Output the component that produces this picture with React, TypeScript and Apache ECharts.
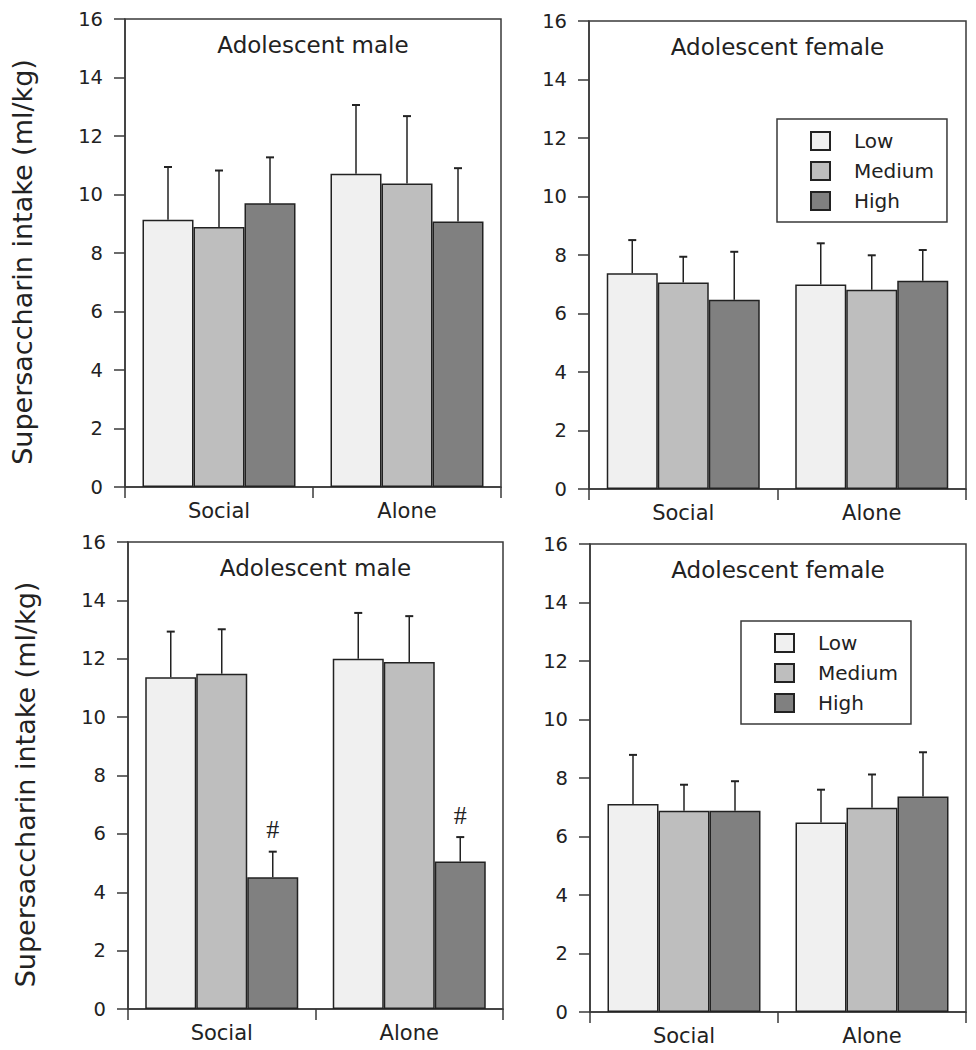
import React, { useEffect, useRef } from 'react';
import * as echarts from 'echarts';

// ---- data ----
const categories = ['Social', 'Alone'];
const levels = ['Low', 'Medium', 'High'];
const panelTitles = ['Adolescent male', 'Adolescent female', 'Adolescent male', 'Adolescent female'];
const yAxisTitle = 'Supersaccharin intake (ml/kg)';

// rows: Low, Medium, High ; columns: Social, Alone
const topMaleMeans = [[9.14, 10.71], [8.89, 10.38], [9.7, 9.08]];
const topMaleErr = [[1.8, 2.35], [1.93, 2.3], [1.57, 1.82]];
const topFemaleMeans = [[7.38, 6.99], [7.06, 6.81], [6.47, 7.12]];
const topFemaleErr = [[1.13, 1.41], [0.88, 1.18], [1.64, 1.05]];
const bottomMaleMeans = [[11.37, 12.0], [11.49, 11.89], [4.51, 5.05]];
const bottomMaleErr = [[1.56, 1.57], [1.52, 1.57], [0.88, 0.84]];
const bottomMaleNotes = [['', ''], ['', ''], ['#', '#']];
const bottomFemaleMeans = [[7.11, 6.48], [6.88, 6.98], [6.88, 7.37]];
const bottomFemaleErr = [[1.68, 1.12], [0.89, 1.14], [1.01, 1.51]];
const emptyNotes = [['', ''], ['', ''], ['', '']];

const yMin = 0;
const yMax = 16;
const yInterval = 2;

// ---- styles ----
const barColors = ['#f0f0f0', '#bebebe', '#808080'];
const INK = '#222';
const FRAME = '#3a3a3a';
const FONT = '"DejaVu Sans", sans-serif';
const BAR_W = 51;

const grids = [
  { left: 125, top: 19, width: 376, height: 468 },
  { left: 589, top: 21, width: 377, height: 468 },
  { left: 128, top: 542, width: 375, height: 467 },
  { left: 590, top: 544, width: 376, height: 468 },
];

const panels = [
  { means: topMaleMeans, errs: topMaleErr, notes: emptyNotes, yName: true, legend: null },
  { means: topFemaleMeans, errs: topFemaleErr, notes: emptyNotes, yName: false, legend: { left: 777, top: 119 } },
  { means: bottomMaleMeans, errs: bottomMaleErr, notes: bottomMaleNotes, yName: true, legend: null },
  { means: bottomFemaleMeans, errs: bottomFemaleErr, notes: emptyNotes, yName: false, legend: { left: 741, top: 621 } },
];

function buildOption() {
  const xAxis: any[] = [];
  const yAxis: any[] = [];
  const series: any[] = [];
  const legend: any[] = [];
  const graphic: any[] = [];

  panels.forEach((p, pi) => {
    xAxis.push({
      type: 'category',
      gridIndex: pi,
      data: categories,
      axisLine: { show: true, lineStyle: { color: FRAME, width: 1.5 } },
      axisTick: { show: true, length: 11, lineStyle: { color: FRAME, width: 1.5 } },
      axisLabel: { fontSize: 21, fontFamily: FONT, color: INK, margin: 13 },
    });
    yAxis.push({
      type: 'value',
      gridIndex: pi,
      min: yMin,
      max: yMax,
      interval: yInterval,
      splitLine: { show: false },
      axisLine: { show: true, lineStyle: { color: FRAME, width: 1.5 } },
      axisTick: { show: true, length: 11, lineStyle: { color: FRAME, width: 1.5 } },
      axisLabel: { fontSize: 19.5, fontFamily: FONT, color: INK, margin: 22 },
      name: p.yName ? yAxisTitle : '',
      nameLocation: 'middle',
      nameRotate: 90,
      nameGap: 89,
      nameTextStyle: { fontSize: 27, fontFamily: FONT, color: INK, padding: [0, 18, 0, 0] },
    });

    levels.forEach((lvl, li) => {
      series.push({
        type: 'bar',
        name: lvl,
        xAxisIndex: pi,
        yAxisIndex: pi,
        data: p.means[li],
        barWidth: BAR_W,
        barGap: '0%',
        itemStyle: { color: barColors[li], borderColor: INK, borderWidth: 1.5 },
        z: 2,
      });
    });

    const errData: any[] = [];
    const notes: string[] = [];
    levels.forEach((lvl, li) => {
      categories.forEach((c, ci) => {
        errData.push([ci, li, p.means[li][ci], p.errs[li][ci]]);
        notes.push(p.notes[li][ci]);
      });
    });
    series.push({
      type: 'custom',
      xAxisIndex: pi,
      yAxisIndex: pi,
      data: errData,
      encode: { x: 0, y: 2 },
      silent: true,
      z: 5,
      renderItem: (params: any, api: any) => {
        const ci = api.value(0);
        const li = api.value(1);
        const m = api.value(2);
        const e = api.value(3);
        const base = api.coord([ci, m]);
        const top = api.coord([ci, m + e]);
        const x = base[0] + (li - 1) * BAR_W;
        const children: any[] = [
          { type: 'line', shape: { x1: x, y1: base[1], x2: x, y2: top[1] }, style: { stroke: INK, lineWidth: 1.5 } },
          { type: 'line', shape: { x1: x - 4, y1: top[1], x2: x + 4, y2: top[1] }, style: { stroke: INK, lineWidth: 2 } },
        ];
        const note = notes[params.dataIndex];
        if (note) {
          children.push({
            type: 'text',
            x,
            y: top[1] - 9,
            style: {
              text: note,
              align: 'center',
              verticalAlign: 'bottom',
              fontSize: 26,
              fontFamily: '"Liberation Serif", serif',
              fill: INK,
            },
          });
        }
        return { type: 'group', children };
      },
    });

    if (p.legend) {
      legend.push({
        data: levels,
        orient: 'vertical',
        left: p.legend.left,
        top: p.legend.top,
        icon: 'rect',
        itemWidth: 19,
        itemHeight: 18,
        itemGap: 10,
        padding: [12, 13, 11, 33],
        borderColor: FRAME,
        borderWidth: 1.5,
        backgroundColor: '#fff',
        selectedMode: false,
        textStyle: { fontSize: 20, fontFamily: FONT, color: INK, lineHeight: 18, padding: [0, 0, 0, 19] },
      });
    }

    const g = grids[pi];
    graphic.push({
      type: 'text',
      x: g.left + g.width / 2,
      y: g.top + 26,
      style: {
        text: panelTitles[pi],
        align: 'center',
        verticalAlign: 'middle',
        fontSize: 23,
        fontFamily: FONT,
        fill: INK,
      },
      z: 10,
    });
  });

  return {
    animation: false,
    backgroundColor: '#fff',
    grid: grids.map((g) => ({
      ...g,
      show: true,
      borderColor: FRAME,
      borderWidth: 1.5,
      backgroundColor: 'transparent',
      containLabel: false,
    })),
    xAxis,
    yAxis,
    legend,
    series,
    graphic,
  };
}

export default function App() {
  const ref = useRef<HTMLDivElement>(null);
  useEffect(() => {
    document.body.style.margin = '0';
    if (!ref.current) return;
    const chart = echarts.init(ref.current, null, { renderer: 'svg' });
    chart.setOption(buildOption() as any);
    return () => chart.dispose();
  }, []);
  return <div ref={ref} style={{ width: 976, height: 1050 }} />;
}
